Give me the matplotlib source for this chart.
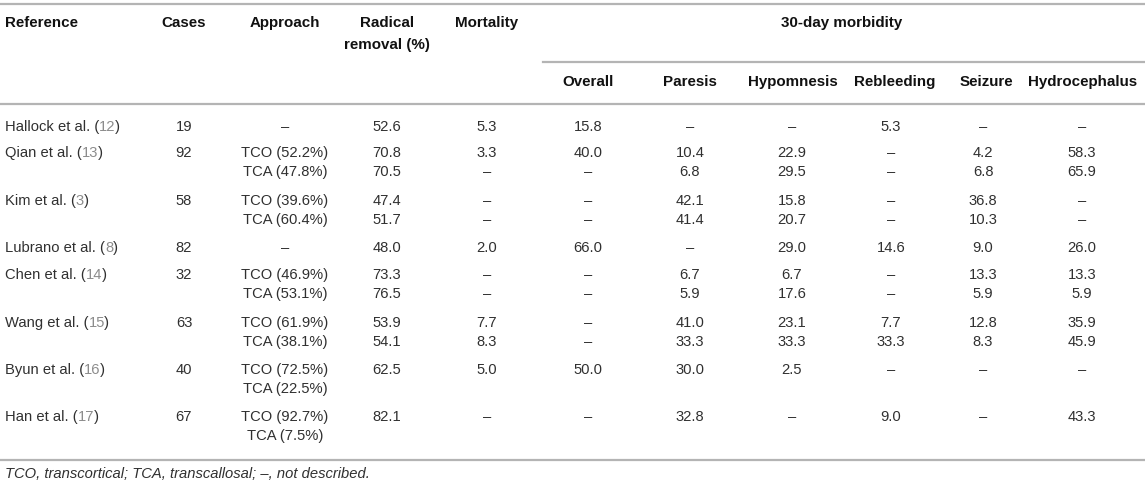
import matplotlib
matplotlib.use("Agg")
import matplotlib.pyplot as plt

# ---------------- data ----------------
studies = ["Hallock et al.", "Qian et al.", "Kim et al.", "Lubrano et al.",
           "Chen et al.", "Wang et al.", "Byun et al.", "Han et al."]
ref_nums = ["12", "13", "3", "8", "14", "15", "16", "17"]
cases = ["19", "92", "58", "82", "32", "63", "40", "67"]
approach = [["–"], ["TCO (52.2%)", "TCA (47.8%)"], ["TCO (39.6%)", "TCA (60.4%)"],
            ["–"], ["TCO (46.9%)", "TCA (53.1%)"], ["TCO (61.9%)", "TCA (38.1%)"],
            ["TCO (72.5%)", "TCA (22.5%)"], ["TCO (92.7%)", "TCA (7.5%)"]]
radical = [["52.6"], ["70.8", "70.5"], ["47.4", "51.7"], ["48.0"], ["73.3", "76.5"],
           ["53.9", "54.1"], ["62.5"], ["82.1"]]
mortality = [["5.3"], ["3.3", "–"], ["–", "–"], ["2.0"], ["–", "–"], ["7.7", "8.3"],
             ["5.0"], ["–"]]
overall = [["15.8"], ["40.0", "–"], ["–", "–"], ["66.0"], ["–", "–"], ["–", "–"],
           ["50.0"], ["–"]]
paresis = [["–"], ["10.4", "6.8"], ["42.1", "41.4"], ["–"], ["6.7", "5.9"],
           ["41.0", "33.3"], ["30.0"], ["32.8"]]
hypomnesis = [["–"], ["22.9", "29.5"], ["15.8", "20.7"], ["29.0"], ["6.7", "17.6"],
              ["23.1", "33.3"], ["2.5"], ["–"]]
rebleeding = [["5.3"], ["–", "–"], ["–", "–"], ["14.6"], ["–", "–"], ["7.7", "33.3"],
              ["–"], ["9.0"]]
seizure = [["–"], ["4.2", "6.8"], ["36.8", "10.3"], ["9.0"], ["13.3", "5.9"],
           ["12.8", "8.3"], ["–"], ["–"]]
hydro = [["–"], ["58.3", "65.9"], ["–", "–"], ["26.0"], ["13.3", "5.9"],
         ["35.9", "45.9"], ["–"], ["43.3"]]

top_headers = ["Reference", "Cases", "Approach", "Radical\nremoval (%)", "Mortality"]
group_header = "30-day morbidity"
sub_headers = ["Overall", "Paresis", "Hypomnesis", "Rebleeding", "Seizure", "Hydrocephalus"]
footnote = "TCO, transcortical; TCA, transcallosal; –, not described."

# ---------------- layout ----------------
plt.rcParams["font.family"] = ["Liberation Sans", "DejaVu Sans"]

W, H = 1145, 488
fig = plt.figure(figsize=(W / 100, H / 100), dpi=100)
ax = fig.add_axes([0, 0, 1, 1])
ax.set_xlim(0, W)
ax.set_ylim(H, 0)
ax.axis("off")

FS = 10.6
FSH = 10.9
TXT = "#303030"
HDR = "#111111"
REFC = "#8c8c8c"
LINEC = "#b4b4b4"

x_ref = 5
x_cols = [184, 285, 387, 487]
x_sub = [588, 690, 792, 891, 983, 1082]
x_sub_hdr = [588, 690, 793, 895, 986, 1083]

# rules
ax.plot([0, W], [4, 4], color=LINEC, lw=1.6)
ax.plot([543, W], [62, 62], color=LINEC, lw=1.6)
ax.plot([0, W], [104, 104], color=LINEC, lw=1.6)
ax.plot([0, W], [460, 460], color=LINEC, lw=1.6)

# headers
ax.text(x_ref, 23, top_headers[0], ha="left", va="center", fontsize=FSH,
        fontweight="bold", color=HDR)
for x, h in zip(x_cols, top_headers[1:]):
    if "\n" in h:
        l1, l2 = h.split("\n")
        ax.text(x, 23, l1, ha="center", va="center", fontsize=FSH,
                fontweight="bold", color=HDR)
        ax.text(x, 45, l2, ha="center", va="center", fontsize=FSH,
                fontweight="bold", color=HDR)
    else:
        ax.text(x, 23, h, ha="center", va="center", fontsize=FSH,
                fontweight="bold", color=HDR)
ax.text(842, 23, group_header, ha="center", va="center", fontsize=FSH,
        fontweight="bold", color=HDR)
for x, h in zip(x_sub_hdr, sub_headers):
    ax.text(x, 82, h, ha="center", va="center", fontsize=FSH,
            fontweight="bold", color=HDR)

# body
row_y = [127, 153, 201, 248, 275, 323, 370, 417]
dy = 19.3
cols = [radical, mortality]
subs = [overall, paresis, hypomnesis, rebleeding, seizure, hydro]
fig.canvas.draw()
renderer = fig.canvas.get_renderer()
inv = ax.transData.inverted()


def right_edge(s, y):
    t = ax.text(x_ref, y, s, ha="left", va="center", fontsize=FS, alpha=0)
    bb = t.get_window_extent(renderer=renderer)
    t.remove()
    return inv.transform((bb.x1, bb.y0))[0]


for i, y in enumerate(row_y):
    prefix = studies[i] + " ("
    ax.text(x_ref, y, prefix, ha="left", va="center", fontsize=FS, color=TXT)
    xn = right_edge(prefix + ref_nums[i], y)
    ax.text(xn, y, ref_nums[i], ha="right", va="center", fontsize=FS, color=REFC)
    xe = right_edge(prefix + ref_nums[i] + ")", y)
    ax.text(xe - 0.6, y, ")", ha="right", va="center", fontsize=FS, color=TXT)
    ax.text(x_cols[0], y, cases[i], ha="center", va="center", fontsize=FS, color=TXT)
    for k, a in enumerate(approach[i]):
        ax.text(x_cols[1], y + k * dy, a, ha="center", va="center", fontsize=FS, color=TXT)
    for x, col in zip(x_cols[2:], cols):
        for k, v in enumerate(col[i]):
            ax.text(x, y + k * dy, v, ha="center", va="center", fontsize=FS, color=TXT)
    for x, col in zip(x_sub, subs):
        for k, v in enumerate(col[i]):
            ax.text(x, y + k * dy, v, ha="center", va="center", fontsize=FS, color=TXT)

ax.text(x_ref, 474, footnote, ha="left", va="center", fontsize=FS,
        style="italic", color=TXT)

fig.savefig("out.png", dpi=100)
